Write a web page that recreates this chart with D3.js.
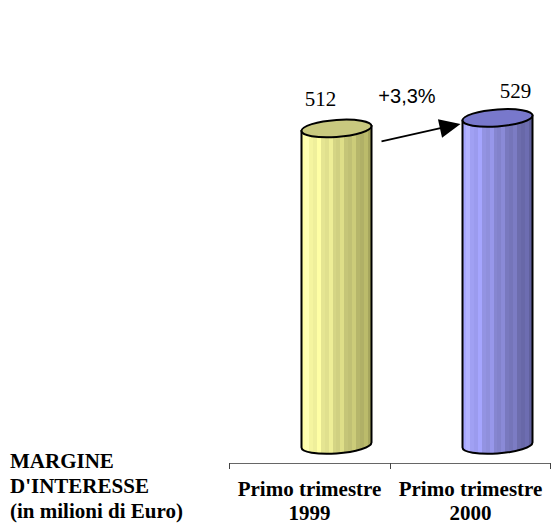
<!DOCTYPE html>
<html>
<head>
<meta charset="utf-8">
<script src="https://cdn.jsdelivr.net/npm/d3@7"></script>
<style>
  body { margin: 0; background: #fff; }
  svg { display: block; }
</style>
</head>
<body>
<svg id="chart"></svg>
<script>
// data
const categories = ["Primo trimestre 1999", "Primo trimestre 2000"];
const values = [512, 529];
const change = "+3,3%";
const titleLines = ["MARGINE", "D'INTERESSE", "(in milioni di Euro)"];

const width = 551, height = 528;
const svg = d3.select("#chart").attr("width", width).attr("height", height);

const x = d3.scaleBand().domain(categories).range([229, 551]);
const y = d3.scaleLinear().domain([0, 600]).range([445, 74]);

const palettes = [
  { light: "#ffffa8", dark: "#a6a65e", top: "#c9c97f" },
  { light: "#a8a8ff", dark: "#60609c", top: "#7878cc" }
];

// striped gradients for the cylinder bodies
const defs = svg.append("defs");
palettes.forEach((p, i) => {
  const g = defs.append("linearGradient").attr("id", "grad" + i)
    .attr("x1", 0).attr("x2", 1).attr("y1", 0).attr("y2", 0);
  const n = 18;
  const interp = d3.interpolateRgb(p.light, p.dark);
  d3.range(n).forEach(k => {
    let c = d3.rgb(interp(k / (n - 1)));
    if (k % 3 === 1) c = c.brighter(0.25);
    g.append("stop").attr("offset", k / n).attr("stop-color", c);
    g.append("stop").attr("offset", (k + 1) / n).attr("stop-color", c);
  });
});

const cylW = 70, ry = 8.5, offset = 27;
const cyl = svg.append("g").selectAll("g")
  .data(values)
  .join("g")
  .attr("transform", (d, i) => `translate(${x(categories[i]) + x.bandwidth() / 2 + offset},0) skewY(-4)`);

cyl.append("path")
  .attr("d", d => {
    const l = -cylW / 2, r = cylW / 2;
    return `M${l},${y(d)} L${l},${y(0)} A${cylW / 2},${ry} 0 0 0 ${r},${y(0)} L${r},${y(d)} Z`;
  })
  .attr("fill", (d, i) => `url(#grad${i})`)
  .attr("stroke", "#000").attr("stroke-width", 2);

cyl.append("ellipse")
  .attr("cx", 0).attr("cy", d => y(d))
  .attr("rx", cylW / 2).attr("ry", ry)
  .attr("fill", (d, i) => palettes[i].top)
  .attr("stroke", "#000").attr("stroke-width", 2);

// value labels
svg.append("g").selectAll("text")
  .data(values)
  .join("text")
  .attr("x", (d, i) => x(categories[i]) + x.bandwidth() / 2 + (i ? 45 : 11))
  .attr("y", (d, i) => y(d) - (i ? 20 : 22))
  .attr("text-anchor", "middle")
  .attr("font-family", "Liberation Serif, Times New Roman, serif")
  .attr("font-size", 21)
  .text(d => d);

// change arrow
const ax0 = x(categories[0]) + x.bandwidth() / 2 + offset + cylW / 2 + 10;
const ax1 = x(categories[1]) + x.bandwidth() / 2 + offset - cylW / 2 - 2;
const ay0 = y(values[0]) + 13, ay1 = y(values[1]) + 6;
svg.append("line")
  .attr("x1", ax0).attr("y1", ay0)
  .attr("x2", ax1 - 10).attr("y2", ay1 + 2)
  .attr("stroke", "#000").attr("stroke-width", 1.8);
svg.append("path")
  .attr("d", () => {
    const ang = Math.atan2(ay1 - ay0, ax1 - ax0);
    const L = 21, W = 9.5;
    const bx = ax1 - L * Math.cos(ang), by = ay1 - L * Math.sin(ang);
    const px = -Math.sin(ang) * W, py = Math.cos(ang) * W;
    return `M${ax1},${ay1} L${bx + px},${by + py} L${bx - px},${by - py} Z`;
  })
  .attr("fill", "#000");

svg.append("text")
  .attr("x", (ax0 + ax1) / 2 - 14).attr("y", 103)
  .attr("text-anchor", "middle")
  .attr("font-family", "Liberation Sans, Arial, sans-serif")
  .attr("font-size", 20)
  .text(change);

// axis
const axisY = 463;
svg.append("line")
  .attr("x1", x.range()[0]).attr("x2", x.range()[1])
  .attr("y1", axisY + 0.5).attr("y2", axisY + 0.5)
  .attr("stroke", "#666").attr("stroke-width", 1);
svg.append("g").selectAll("line")
  .data([...categories.map(c => x(c)), x.range()[1] - 1])
  .join("line")
  .attr("x1", d => d + 0.5).attr("x2", d => d + 0.5)
  .attr("y1", axisY).attr("y2", axisY + 6)
  .attr("stroke", "#444");

const catText = svg.append("g").selectAll("text")
  .data(categories)
  .join("text")
  .attr("x", d => x(d) + x.bandwidth() / 2)
  .attr("y", 496)
  .attr("text-anchor", "middle")
  .attr("font-family", "Liberation Serif, Times New Roman, serif")
  .attr("font-weight", "bold")
  .attr("font-size", 21);
catText.append("tspan").text(d => d.replace(/ \d+$/, ""));
catText.append("tspan")
  .attr("x", d => x(d) + x.bandwidth() / 2).attr("dy", 24)
  .text(d => d.match(/\d+$/)[0]);

// title on the left
svg.append("g").selectAll("text")
  .data(titleLines)
  .join("text")
  .attr("x", 10)
  .attr("y", (d, i) => 468 + i * 25)
  .attr("font-family", "Liberation Serif, Times New Roman, serif")
  .attr("font-weight", "bold")
  .attr("font-size", 21)
  .text(d => d);
</script>
</body>
</html>
